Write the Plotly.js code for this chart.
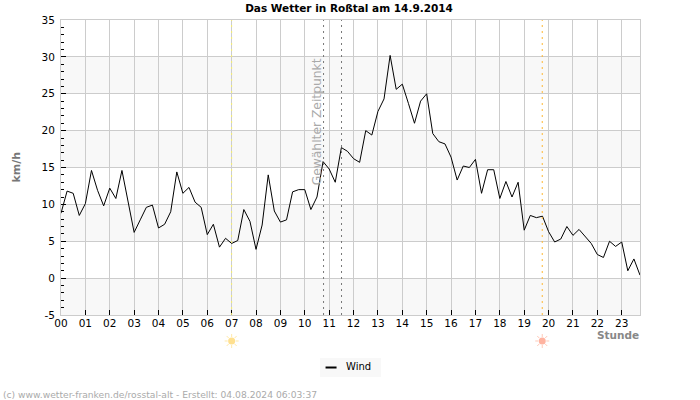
<!DOCTYPE html>
<html>
<head>
<meta charset="utf-8">
<script src="https://cdn.plot.ly/plotly-3.0.1.min.js"></script>
<style>html,body{margin:0;padding:0;background:#fff}</style>
</head>
<body>
<div id="chart" style="width:700px;height:400px"></div>
<script>
// Wind speed in km/h, one reading per quarter hour
const windSpeed = [
  8.8,11.8,11.5,8.5, 10.1,14.6,11.9,9.8, 12.2,10.8,14.6,10.6,
  6.2,7.9,9.6,9.9, 6.8,7.3,9.0,14.4, 11.5,12.3,10.3,9.6,
  5.9,7.3,4.2,5.4, 4.7,5.1,9.3,7.7, 3.9,7.2,14.0,9.1,
  7.6,7.9,11.7,12.0, 12.0,9.3,11.0,15.8, 14.8,13.0,17.7,17.2,
  16.2,15.7,20.0,19.4, 22.6,24.3,30.2,25.6, 26.3,23.7,21.0,24.0,
  25.0,19.6,18.5,18.2, 16.4,13.3,15.2,15.0, 16.1,11.5,14.7,14.7,
  10.8,13.1,11.0,13.0, 6.5,8.5,8.2,8.4, 6.3,4.9,5.3,7.0,
  5.8,6.6,5.6,4.7, 3.2,2.8,5.0,4.3, 4.9,1.0,2.6,0.4
];
const quarterHours = [
  0,0.25,0.5,0.75, 1,1.25,1.5,1.75, 2,2.25,2.5,2.75,
  3,3.25,3.5,3.75, 4,4.25,4.5,4.75, 5,5.25,5.5,5.75,
  6,6.25,6.5,6.75, 7,7.25,7.5,7.75, 8,8.25,8.5,8.75,
  9,9.25,9.5,9.75, 10,10.25,10.5,10.75, 11,11.25,11.5,11.75,
  12,12.25,12.5,12.75, 13,13.25,13.5,13.75, 14,14.25,14.5,14.75,
  15,15.25,15.5,15.75, 16,16.25,16.5,16.75, 17,17.25,17.5,17.75,
  18,18.25,18.5,18.75, 19,19.25,19.5,19.75, 20,20.25,20.5,20.75,
  21,21.25,21.5,21.75, 22,22.25,22.5,22.75, 23,23.25,23.5,23.75
];
const hourTicks = [0,1,2,3,4,5,6,7,8,9,10,11,12,13,14,15,16,17,18,19,20,21,22,23];
const hourLabels = ["00","01","02","03","04","05","06","07","08","09","10","11",
                    "12","13","14","15","16","17","18","19","20","21","22","23"];
const speedTicks = [-5,0,5,10,15,20,25,30,35];
const speedLabels = ["-5","0","5","10","15","20","25","30","35"];
const bandRanges = [[-5,0],[5,10],[15,20],[25,30]];
const selectedTimes = [10.77,11.507];
const sunrise = 7;
const sunset = 19.74;

const bandShapes = bandRanges.map(b => ({
  type:'rect', layer:'below', xref:'paper', yref:'y',
  x0:0, x1:1, y0:b[0], y1:b[1], fillcolor:'#f8f8f8', line:{width:0}
}));
const vLine = (x, color) => ({
  type:'line', layer:'above', xref:'x', yref:'paper',
  x0:x, x1:x, y0:0, y1:1, line:{color:color, width:1, dash:'2px,4px'}
});

// Sun glyph below the axis: pale rays around a soft disc
const sunY = -0.0881;
const rayPath = 'M-7,0L-4,0M4,0L7,0M0,-7L0,-4M0,4L0,7M-5,-5L-3,-3M3,3L5,5M-5,5L-3,3M3,-3L5,-5';
const sunShapes = (x, disc, ray) => [
  {type:'path', layer:'above', xref:'x', yref:'paper', xsizemode:'pixel', ysizemode:'pixel',
   xanchor:x, yanchor:sunY, path:rayPath, line:{color:ray, width:1}},
  {type:'circle', layer:'above', xref:'x', yref:'paper', xsizemode:'pixel', ysizemode:'pixel',
   xanchor:x, yanchor:sunY, x0:-3.5, x1:3.5, y0:-3.5, y1:3.5, fillcolor:disc, line:{width:0}}
];

// Key box below the plot, in paper fractions of the 580 x 295 plot area
const keyShapes = [
  {type:'rect', layer:'above', xref:'paper', yref:'paper',
   x0:0.4474, x1:0.5526, y0:-0.2102, y1:-0.1458, fillcolor:'#f8f8f8', line:{width:0}},
  {type:'line', layer:'above', xref:'paper', yref:'paper',
   x0:0.4569, x1:0.4759, y0:-0.1780, y1:-0.1780, line:{color:'#000', width:2}}
];

const font = '"DejaVu Sans", Verdana, sans-serif';
const traces = [
  {x:quarterHours, y:windSpeed, mode:'lines', name:'Wind', showlegend:false,
   line:{color:'#000', width:1}}
];

const layout = {
  width:700, height:400,
  margin:{l:60.5, r:59.5, t:20, b:85, pad:0},
  paper_bgcolor:'#fff', plot_bgcolor:'#fff',
  font:{family:font, size:10.5, color:'#000'},
  title:{text:'<b>Das Wetter in Roßtal am 14.9.2014</b>',
         font:{family:font, size:10.5, color:'#000'},
         x:0.4986, xanchor:'center', y:0.98, yanchor:'middle'},
  xaxis:{range:[0,23.75], tickmode:'array', tickvals:hourTicks, ticktext:hourLabels,
         ticks:'inside', ticklen:5, tickcolor:'#000', tickwidth:1,
         showgrid:true, gridcolor:'#ccc', gridwidth:1, zeroline:false,
         showline:true, linecolor:'#ccc', linewidth:1, mirror:true,
         tickangle:0, tickfont:{family:font, size:10.5, color:'#000'}, ticklabelstandoff:-2},
  yaxis:{range:[-5,35], tickmode:'array', tickvals:speedTicks, ticktext:speedLabels,
         ticks:'inside', ticklen:5, tickcolor:'#000', tickwidth:1,
         minor:{dtick:1, tick0:-5, ticks:'inside', ticklen:3, tickcolor:'#000', tickwidth:1, showgrid:false},
         showgrid:true, gridcolor:'#ccc', gridwidth:1, zeroline:false,
         showline:true, linecolor:'#ccc', linewidth:1, mirror:true,
         tickfont:{family:font, size:10.5, color:'#000'}, ticklabelstandoff:3},
  showlegend:false,
  shapes:[...bandShapes, vLine(sunrise,'#f5ee70'), vLine(sunset,'#ffb733'),
          ...selectedTimes.map(t => vLine(t,'#777')),
          ...sunShapes(sunrise, '#ffe08f', '#ffe9a8'),
          ...sunShapes(sunset, '#ffb3a0', '#ffc9b8'),
          ...keyShapes],
  annotations:[
    {text:'Gewählter Zeitpunkt', xref:'x', yref:'y', x:selectedTimes[0], y:21.2,
     xanchor:'right', yanchor:'middle', textangle:-90, showarrow:false, xshift:2,
     font:{family:font, size:12.3, color:'#aaa'}},
    {text:'<b>km/h</b>', xref:'paper', yref:'paper', x:-0.0776, y:0.5,
     xanchor:'center', yanchor:'middle', textangle:-90, showarrow:false,
     font:{family:font, size:11, color:'#777'}},
    {text:'<b>Stunde</b>', xref:'paper', yref:'paper', x:1.002, y:-0.068,
     xanchor:'right', yanchor:'middle', showarrow:false,
     font:{family:font, size:10.5, color:'#888'}},
    {text:'Wind', xref:'paper', yref:'paper', x:0.4888, y:-0.1747,
     xanchor:'left', yanchor:'middle', showarrow:false,
     font:{family:font, size:10, color:'#000'}},
    {text:'(c) www.wetter-franken.de/rosstal-alt - Erstellt: 04.08.2024 06:03:37',
     xref:'paper', yref:'paper', x:-0.1035, y:-0.2678, xanchor:'left', yanchor:'middle',
     showarrow:false, font:{family:font, size:9.18, color:'#aaa'}}
  ]
};
Plotly.newPlot('chart', traces, layout, {displayModeBar:false, staticPlot:true});
</script>
</body>
</html>
